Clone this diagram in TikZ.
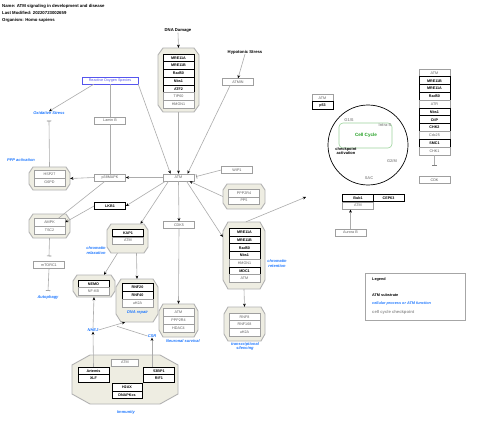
\documentclass[tikz,border=0pt]{standalone}
\usepackage{fontspec}
\setmainfont{Liberation Sans}
\usetikzlibrary{arrows.meta}
\definecolor{procblue}{HTML}{1E78FF}
\definecolor{cplxfill}{HTML}{EEEDE2}
\definecolor{ccgreen}{HTML}{22A022}
\definecolor{rosblue}{HTML}{5555EE}
\newcommand\fsz{\fontsize{3.7}{4.2}\selectfont}
\newcommand\fproc{\fontsize{4}{4.6}\selectfont}
\newcommand\octa[7]{%
 \path[cplx] (#1+#5,#2) -- (#3-#5,#2) -- (#3,#2+#6) -- (#3,#4-#6) -- (#3-#5,#4) -- (#1+#5,#4) -- (#1,#4-#6) -- (#1,#2+#6) -- cycle;
 \node[inner sep=0, minimum width={(#3-#1)*1pt}, minimum height={(#4-#2)*1pt}] (#7) at ({(#1+#3)/2},{(#2+#4)/2}) {};}
\tikzset{
 bx/.style={draw=gray!75, fill=white, minimum width=31pt, minimum height=7.7pt, inner sep=0, font=\fsz, text=gray!75!black, line width=0.5pt},
 sb/.style={bx, draw=black, line width=0.8pt, text=black, font=\fsz\bfseries},
 cplx/.style={draw=gray!60, fill=cplxfill, line width=0.9pt},
 lnk/.style={draw=gray!65, line width=0.6pt},
 arr/.style={lnk, -{Stealth[length=3.2pt,width=2.8pt,color=black]}},
 inh/.style={lnk, -{Bar[width=4.5pt,color=gray]}},
 proc/.style={text=procblue, font=\fproc\bfseries\itshape, align=center, inner sep=0},
 ccl/.style={text=gray!85, font=\fproc\bfseries, inner sep=0},
 hdr/.style={font=\fontsize{4.3}{5}\selectfont\bfseries, anchor=west, inner sep=0},
 lbl/.style={font=\fontsize{4.2}{5}\selectfont\bfseries, inner sep=0},
}
\begin{document}
\begin{tikzpicture}[x=1pt,y=-1pt]
\useasboundingbox[fill=white] (0,0) rectangle (480,428);
% header
\node[hdr] (h1) at (2,6) {Name: ATM signaling in development and disease};
\node[hdr] (h2) at (2,13) {Last Modified: 20220723002659};
\node[hdr] (h3) at (2,20) {Organism: Homo sapiens};

% top stimuli
\node[lbl] (dna) at (178,30.5) {DNA Damage};
\node[lbl] (hypo) at (245,52) {Hypotonic Stress};

% complex 1
\octa{158}{48}{199}{112}{5}{7}{c1}
\node[sb] (c1a) at (178.5,58) {MRE11A};
\node[sb] (c1b) at (178.5,65.7) {MRE11B};
\node[sb] (c1c) at (178.5,73.4) {Rad50};
\node[sb] (c1d) at (178.5,81.1) {Nbs1};
\node[sb] (c1e) at (178.5,88.8) {ATF2};
\node[bx] (c1f) at (178.5,96.5) {TIP60};
\node[bx] (c1g) at (178.5,104.2) {HMGN1};

\node[bx, minimum height=7pt] (atmin) at (238,82) {ATMIN};
\node[bx, draw=rosblue, text=rosblue, minimum width=56pt, minimum height=7pt] (ros) at (110,80.5) {Reactive Oxygen Species};
\node[bx, minimum height=7pt] (lamin) at (110,120.5) {Lamin B};

\node[proc] (oxs) at (49,113) {Oxidative Stress};
\node[proc] (ppp) at (21,160) {PPP activation};

% HSP27 complex
\octa{29}{167}{70}{190}{4}{6}{chsp}
\node[bx] (hsp) at (49.5,174.5) {HSP27};
\node[bx] (g6pd) at (49.5,182.2) {G6PD};

\node[bx, minimum height=7pt] (p38) at (110,177.5) {p38MAPK};
\node[bx, minimum height=7pt] (atm) at (178.5,177.5) {ATM};
\node[bx, minimum height=7pt] (wip1) at (237,170) {WIP1};

% PPP2R4 complex
\octa{223}{184}{265}{209}{4}{6}{cppp}
\node[bx] (ppp2) at (244,193) {PPP2R4};
\node[bx] (pp5) at (244,200.7) {PP5};

\node[sb, minimum height=7pt] (lkb1) at (110,206) {LKB1};

% AMPK complex
\octa{29}{214}{70}{238}{4}{6}{campk}
\node[bx] (ampk) at (49.5,222.3) {AMPK};
\node[bx] (tsc2) at (49.5,230) {TSC2};

\node[bx, minimum height=7pt] (mtor) at (49,265) {mTORC1};
\node[proc] (auto) at (48,297) {Autophagy};

% KAP1 complex
\octa{107}{224}{148}{253}{4}{6}{ckap}
\node[sb] (kap1) at (128,233) {KAP1};
\node[bx] (katm) at (128,240.7) {ATM};
\node[proc] (chrel) at (96,250.5) {chromatin\\relaxation};

\node[bx, minimum height=7pt] (cdk5) at (179,225) {CDK5};

% complex 2
\octa{223}{222}{265}{289}{5}{9}{c2}
\node[sb] (c2a) at (244.5,232.3) {MRE11A};
\node[sb] (c2b) at (244.5,240) {MRE11B};
\node[sb] (c2c) at (244.5,247.7) {Rad50};
\node[sb] (c2d) at (244.5,255.4) {Nbs1};
\node[bx] (c2e) at (244.5,263.1) {HMGN1};
\node[sb] (c2f) at (244.5,270.8) {MDC1};
\node[bx] (c2g) at (244.5,278.5) {ATM};
\node[proc] (chret) at (277,263.5) {chromatin\\retention};
\coordinate (cpa) at (306,197);

% RNF8 complex
\octa{224}{307}{265}{341}{4}{7}{crnf8}
\node[bx] (rnf8) at (244.5,316.8) {RNF8};
\node[bx] (rnf168) at (244.5,324.5) {RNF168};
\node[bx] (uh2a) at (244.5,332.2) {uH2A};
\node[proc] (trs) at (245,346.5) {transcriptional\\silencing};

% NEMO complex
\octa{73}{275}{115}{297}{4}{6}{cnemo}
\node[sb] (nemo) at (93.5,284) {NEMO};
\node[bx] (nfkb) at (93.5,291.5) {NF-KB};

% RNF20 complex
\octa{116}{279}{158}{322}{5}{8}{crnf20}
\node[sb] (rnf20) at (137.5,287.5) {RNF20};
\node[sb] (rnf40) at (137.5,295.2) {RNF40};
\node[bx] (uh2b) at (137.5,302.9) {uH2A};
\node[proc] (dnar) at (137.5,312) {DNA repair};

% neuronal complex
\octa{159}{304}{198}{337}{4}{7}{cneu}
\node[bx] (natm) at (178.5,312.5) {ATM};
\node[bx] (nppp) at (178.5,320.2) {PPP2R4};
\node[bx] (hdac4) at (178.5,327.9) {HDAC4};
\node[proc] (neus) at (183,341) {Neuronal survival};

\node[proc] (nhej) at (93,330) {NHEJ};
\node[proc] (csr) at (152,336) {CSR};
\coordinate (join) at (117,326.3);

% immunity complex
\octa{72}{355}{178}{404}{18}{10}{cimm}
\node[bx, minimum width=27pt, minimum height=7pt] (iatm) at (125,362.5) {ATM};
\node[sb, minimum height=7.5pt] (art) at (93.5,371) {Artemis};
\node[sb, minimum height=7.5pt] (xlf) at (93.5,378.5) {XLF};
\node[sb, minimum height=7.5pt] (bp53) at (159,371) {53BP1};
\node[sb, minimum height=7.5pt] (rif1) at (159,378.5) {RIF1};
\node[sb, minimum width=30pt, minimum height=7.5pt] (h2ax) at (127,387.5) {H2AX};
\node[sb, minimum width=30pt, minimum height=7.5pt] (dnapk) at (127,395) {DNAPKcs};
\node[proc] (imm) at (126,412) {Immunity};

% right side
\node[bx, minimum width=21pt, minimum height=7.5pt] (patm) at (322.5,98) {ATM};
\node[sb, minimum width=21pt, minimum height=7.5pt] (p53) at (322.5,105.5) {p53};

% cell cycle
\draw[black, line width=0.7pt] (368,145) circle (40);
\node[draw=ccgreen!45, line width=0.6pt, rounded corners=4pt, minimum width=53pt, minimum height=25pt, inner sep=0] (ccbox) at (365.5,135.5) {};
\node[font=\fontsize{4.6}{5}\selectfont\bfseries, text=ccgreen, inner sep=0] (cc) at (366,135) {Cell Cycle};
\node[ccl] (g1s) at (349,120) {G1/S};
\node[ccl] (intras) at (385,125) {Intra-S};
\node[font=\fproc\bfseries, align=center, inner sep=0] (cpact) at (346,151) {checkpoint\\activation};
\node[ccl] (g2m) at (392,161) {G2/M};
\node[ccl] (sac) at (369,178) {SAC};

% right column
\foreach \n/\t/\s [count=\k from 0] in {r1/ATM/bx,r2/MRE11B/sb,r3/MRE11A/sb,r4/Rad50/sb,r5/ATR/bx,r6/Nbs1/sb,r7/CtIP/sb,r8/CHK2/sb,r9/Cdc25/bx,r10/SMC1/sb,r11/CHK1/bx}
  \node[\s, minimum height=7.8pt] (\n) at (434.5,73+7.8*\k) {\t};
\node[bx, minimum height=7pt] (cdk) at (434.5,180) {CDK};

% Bub1 group
\node[sb, minimum height=7pt] (bub1) at (358,198) {Bub1};
\node[sb, minimum height=7pt] (cep63) at (388.5,198) {CEP63};
\node[bx, minimum height=7.5pt] (batm) at (358,205.5) {ATM};
\node[bx, minimum height=7pt] (aurb) at (350.5,232.5) {Aurora B};

% legend
\node[draw=gray!70, line width=0.6pt, fill=white, minimum width=100pt, minimum height=47pt, inner sep=0] (leg) at (415,296.5) {};
\node[font=\fontsize{3.8}{4.4}\selectfont\bfseries, anchor=west, inner sep=0] (legt) at (372,280) {Legend};
\node[font=\fontsize{3.8}{4.4}\selectfont\bfseries, anchor=west, inner sep=0] (leg1) at (372,295) {ATM substrate};
\node[font=\fontsize{3.8}{4.4}\selectfont\bfseries\itshape, text=procblue, anchor=west, inner sep=0] (leg2) at (372,304) {cellular process or ATM function};
\node[font=\fontsize{4.2}{4.8}\selectfont\bfseries, text=gray!85, anchor=west, inner sep=0] (leg3) at (372,312) {cell cycle checkpoint};

% connectors
\draw[arr] (dna.south) -- (c1.north);
\draw[arr] (hypo.south) -- (atmin.north);
\draw[arr] ([xshift=12pt]ros.south west) -- (oxs.north);
\draw[lnk] (ros.south) -- (lamin.north);
\draw[lnk] (lamin.south) -- (p38.north);
\draw[arr] (ros.south east) -- ([xshift=-8pt]atm.north);
\draw[arr] (c1.south) -- (atm.north);
\draw[arr] ([xshift=-8pt]atmin.south) -- ([xshift=9pt]atm.north);
\draw[inh] (chsp.north) -- ([yshift=-6pt]oxs.south);
\draw[arr] (atm.west) -- (p38.east);
\draw[arr] (p38.west) -- (chsp.east);
\draw[lnk] ([xshift=-5pt]p38.south) -- ([xshift=9pt]ampk.north);
\draw[inh] (wip1.west) -- ([xshift=2pt,yshift=1pt]atm.east);
\draw[arr] (cppp.west) -- ([xshift=11pt]atm.south);
\draw[arr] ([xshift=-13pt]atm.south) -- (lkb1.east);
\draw[arr] ([xshift=-10pt]atm.south) -- ([xshift=13pt]ckap.north);
\draw[arr] ([xshift=8pt]atm.south) -- ([yshift=18.5pt]c2.west);
\draw[arr] (lkb1.west) -- (ampk.east);
\draw[inh] (campk.south) -- ([yshift=5pt]mtor.north);
\draw[inh] (mtor.south) -- ([yshift=4pt]auto.north);
\draw[arr] (atm.south) -- (cdk5.north);
\draw[arr] (cdk5.south) -- (cneu.north);
\draw[arr] ([xshift=-10pt]ckap.south) -- ([xshift=10pt]cnemo.north);
\draw[arr] ([xshift=9pt]ckap.south) -- (crnf20.north);
\draw[arr] ([xshift=2pt]c2.north) -- (cpa);
\draw[arr] (c2.south) -- (crnf8.north);
\draw[arr] (art.north) -- (nhej.south);
\draw[arr] (nhej.north) -- (cnemo.south);
\draw[arr] ([xshift=-7pt]bp53.north) -- (csr.south);
\draw[arr] (nhej.east) -- ([xshift=-12pt]crnf20.south);
\draw[lnk] (csr.west) -- (join);
\draw[inh] (r11.south) -- ([yshift=10.5pt]cdk.north);
\draw[arr] (aurb.north) -- ([xshift=-7.5pt]batm.south);
\end{tikzpicture}
\end{document}
